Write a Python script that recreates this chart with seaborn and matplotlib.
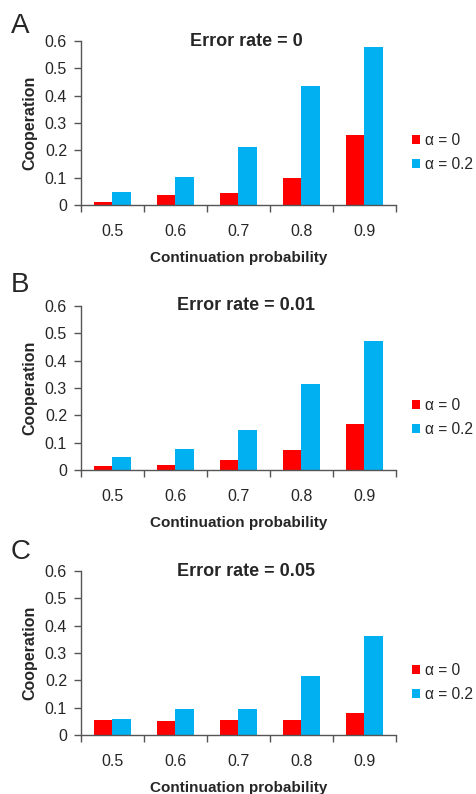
import pandas as pd
import matplotlib
matplotlib.use("Agg")
import matplotlib.pyplot as plt
import seaborn as sns
from matplotlib.ticker import FixedLocator

# continuation probabilities and cooperation levels
probs = ["0.5", "0.6", "0.7", "0.8", "0.9"]
error_rates = ["0", "0.01", "0.05"]
panel_letters = ["A", "B", "C"]

coop_a0 = {
    "0": [0.011, 0.037, 0.045, 0.098, 0.257],
    "0.01": [0.013, 0.020, 0.038, 0.074, 0.167],
    "0.05": [0.054, 0.050, 0.054, 0.054, 0.082],
}
coop_a02 = {
    "0": [0.046, 0.101, 0.212, 0.435, 0.579],
    "0.01": [0.046, 0.077, 0.145, 0.313, 0.473],
    "0.05": [0.060, 0.094, 0.094, 0.216, 0.361],
}
series_names = ["α = 0", "α = 0.2"]
colors = ["#FF0000", "#00B0F0"]

sns.set_style("ticks")
plt.rcParams["font.family"] = ["Liberation Sans", "DejaVu Sans"]

fig = plt.figure(figsize=(4.77, 7.94), dpi=100)
W, H = 477, 794

# axes boxes in pixels: (left, top, right, bottom)
boxes = [(81, 41, 396, 205), (81, 306, 396, 470), (81, 571, 396, 735)]
letter_tops = [13, 272, 539]

for i, er in enumerate(error_rates):
    l, t, r, b = boxes[i]
    ax = fig.add_axes([l / W, (H - b) / H, (r - l) / W, (b - t) / H])

    df = pd.DataFrame({
        "prob": probs * 2,
        "coop": coop_a0[er] + coop_a02[er],
        "series": [series_names[0]] * 5 + [series_names[1]] * 5,
    })
    sns.barplot(data=df, x="prob", y="coop", hue="series", palette=colors,
                width=0.59, saturation=1, linewidth=0, ax=ax)

    ax.set_xlim(-0.5, 4.5)
    ax.set_ylim(0, 0.6)
    ax.set_yticks([0, 0.1, 0.2, 0.3, 0.4, 0.5, 0.6])
    ax.set_yticklabels(["0", "0.1", "0.2", "0.3", "0.4", "0.5", "0.6"])
    ax.xaxis.set_minor_locator(FixedLocator([-0.5, 0.5, 1.5, 2.5, 3.5, 4.5]))
    ax.tick_params(axis="x", which="major", length=0, pad=14, labelsize=11.5)
    ax.tick_params(axis="x", which="minor", length=5, width=1, color="#555555",
                   direction="out")
    ax.tick_params(axis="y", length=5, width=1, color="#555555", pad=5,
                   labelsize=11.5)

    for side in ["top", "right"]:
        ax.spines[side].set_visible(False)
    for side in ["left", "bottom"]:
        ax.spines[side].set_color("#555555")
        ax.spines[side].set_linewidth(1)

    ax.set_xlabel("Continuation probability", fontsize=11, fontweight="bold",
                  labelpad=8)
    ax.set_ylabel("Cooperation", fontsize=11.5, fontweight="bold", labelpad=5)

    ax.text(0.524, 1.0, f"Error rate = {er}", transform=ax.transAxes,
            ha="center", va="center", fontsize=13, fontweight="bold")

    fig.text(11 / W, (H - letter_tops[i]) / H, panel_letters[i], ha="left",
             va="top", fontsize=20)

    ax.legend(loc="center left", bbox_to_anchor=(1.05, 0.32), frameon=False,
              fontsize=11.2, handlelength=0.55, handleheight=0.55,
              handletextpad=0.3, labelspacing=0.6, borderpad=0,
              borderaxespad=0)

fig.savefig("out.png", dpi=100)
